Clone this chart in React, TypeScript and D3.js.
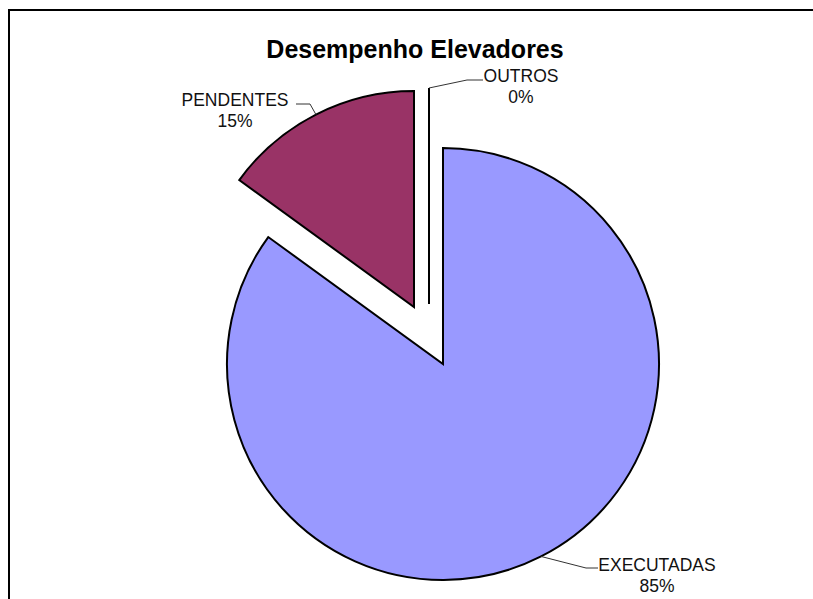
import React from "react";
import * as d3 from "d3";

// Slice data
const categories = ["EXECUTADAS", "PENDENTES", "OUTROS"];
const values = [85, 15, 0];
const percentLabels = ["85%", "15%", "0%"];
const colors = ["#9999FF", "#993366", "#FFFFFF"];
const title = "Desempenho Elevadores";

const W = 813;
const H = 599;
const cx = 443;
const cy = 364;
const R = 216;

// Explode offsets (px) for each slice
const explode = [
  { dx: 0, dy: 0 },
  { dx: -29, dy: -57 },
  { dx: -14, dy: -60 },
];

// Label anchor positions and leader routing
const labelPos = [
  { x: 657, y: 571, elbowX: 586, elbowY: 568, endX: 598 },
  { x: 235, y: 106, elbowX: 310, elbowY: 104, endX: 296 },
  { x: 521, y: 82, elbowX: 467, elbowY: 80, endX: 483 },
];

export default function App() {
  const pie = d3
    .pie<number>()
    .sort(null)
    .startAngle(0)
    .endAngle(2 * Math.PI)
    .value((d) => d);
  const arcs = pie(values);
  const arcGen = d3.arc<d3.PieArcDatum<number>>().innerRadius(0).outerRadius(R);

  const font = "'Liberation Sans', Arial, sans-serif";

  return (
    <svg
      width={W}
      height={H}
      style={{ position: "absolute", left: 0, top: 0, background: "#fff" }}
    >
      <rect x={9} y={10} width={W + 20} height={H + 20} fill="#fff" stroke="#000" strokeWidth={2} />
      <text
        x={415}
        y={58}
        textAnchor="middle"
        fontFamily={font}
        fontWeight="bold"
        fontSize={25}
        fill="#000"
      >
        {title}
      </text>
      {arcs.map((a, i) => {
        const off = explode[i];
        const tx = cx + off.dx;
        const ty = cy + off.dy;
        const isZero = a.endAngle - a.startAngle < 1e-9;
        const mid = (a.startAngle + a.endAngle) / 2;
        const ax = tx + R * Math.sin(mid);
        const ay = ty - R * Math.cos(mid);
        const lp = labelPos[i];
        return (
          <g key={categories[i]}>
            {isZero ? (
              <line
                x1={tx}
                y1={ty}
                x2={tx + R * Math.sin(a.startAngle)}
                y2={ty - R * Math.cos(a.startAngle)}
                stroke="#000"
                strokeWidth={2}
              />
            ) : (
              <path
                d={arcGen(a) || ""}
                transform={`translate(${tx},${ty})`}
                fill={colors[i]}
                stroke="#000"
                strokeWidth={2}
                strokeLinejoin="miter"
              />
            )}
            <polyline
              points={`${ax},${ay} ${lp.elbowX},${lp.elbowY} ${lp.endX},${lp.elbowY}`}
              fill="none"
              stroke="#333"
              strokeWidth={1}
            />
            <text
              x={lp.x}
              y={lp.y}
              textAnchor="middle"
              fontFamily={font}
              fontSize={17.5}
              fill="#111"
            >
              {categories[i]}
            </text>
            <text
              x={lp.x}
              y={lp.y + 21}
              textAnchor="middle"
              fontFamily={font}
              fontSize={17.5}
              fill="#111"
            >
              {percentLabels[i]}
            </text>
          </g>
        );
      })}
    </svg>
  );
}
